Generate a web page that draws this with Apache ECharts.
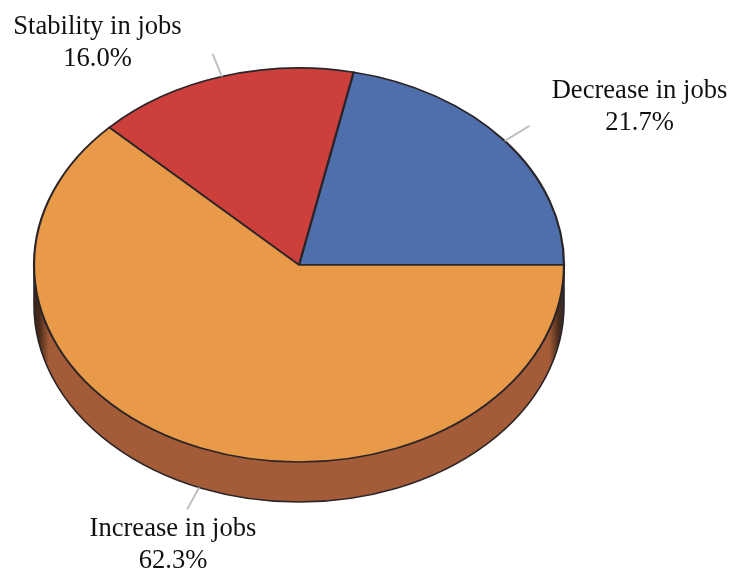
<!DOCTYPE html>
<html>
<head>
<meta charset="utf-8">
<style>html,body{margin:0;padding:0;background:#fff}#main{width:740px;height:569px}</style>
<script src="https://cdn.jsdelivr.net/npm/echarts@6/dist/echarts.min.js"></script>
</head>
<body>
<div id="main"></div>
<script>
// Employment change shares
const categories = ['Decrease in jobs', 'Stability in jobs', 'Increase in jobs'];
const shares = [21.7, 16.0, 62.3];
const sliceColors = ['#4E6FAC', '#CC3F3A', '#E99A48'];
const wallColor = '#A45C38';
const edgeColor = '#2B2428';

// Tilted disc geometry
const cx = 299, cy = 265, rx = 265, ry = 197, depth = 40;
const labelCentres = [[639.5, 107.5], [97.5, 43.5], [173, 545]];

const total = shares.reduce((a, b) => a + b, 0);
const starts = [];
shares.reduce((acc, v, i) => { starts[i] = acc; return acc + v; }, 0);

function sliceAngles(i, value) {
  // Screen angles, running counter-clockwise from the east point
  const a0 = starts[i] / total * Math.PI * 2;
  const a1 = a0 + value / total * Math.PI * 2;
  return [a0, a1];
}

function renderTop(params, api) {
  const i = params.dataIndex;
  const value = api.value(0);
  const [a0, a1] = sliceAngles(i, value);
  const mid = (a0 + a1) / 2;
  const mx = Math.cos(mid), my = -Math.sin(mid);
  const drop = my > 0 ? depth : 0;
  const px = cx + rx * mx, py = cy + ry * my + drop;
  const qx = cx + rx * mx * 1.12, qy = cy + ry * my * 1.12 + drop;
  return {
    type: 'group',
    children: [
      {
        type: 'sector',
        originX: cx, originY: cy, scaleY: ry / rx,
        shape: { cx: cx, cy: cy, r0: 0, r: rx, startAngle: -a1, endAngle: -a0, clockwise: true },
        style: { fill: sliceColors[i], stroke: edgeColor, lineWidth: 2.2 }
      },
      {
        type: 'line',
        shape: { x1: px, y1: py, x2: qx, y2: qy },
        style: { stroke: '#C0C0C0', lineWidth: 2 }
      },
      {
        type: 'text',
        x: labelCentres[i][0], y: labelCentres[i][1],
        style: {
          text: categories[i] + '\n' + value.toFixed(1) + '%',
          fontFamily: '"Liberation Serif"', fontSize: 26.6, lineHeight: 32,
          fill: '#111', align: 'center', verticalAlign: 'middle'
        }
      }
    ]
  };
}

function renderWall() {
  const l = cx - rx, r = cx + rx, b = cy + depth;
  return {
    type: 'path',
    shape: { pathData: `M${l} ${cy} L${l} ${b} A${rx} ${ry} 0 0 0 ${r} ${b} L${r} ${cy} Z` },
    style: {
      fill: {
        type: 'linear', x: 0, y: 0, x2: 1, y2: 0,
        colorStops: [
          { offset: 0, color: '#33241C' }, { offset: 0.012, color: '#4A2C1C' },
          { offset: 0.03, color: wallColor }, { offset: 0.97, color: wallColor },
          { offset: 0.988, color: '#4A2C1C' }, { offset: 1, color: '#2A2A30' }
        ]
      },
      stroke: edgeColor, lineWidth: 1.6
    }
  };
}

const chart = echarts.init(document.getElementById('main'), null, { renderer: 'canvas' });
chart.setOption({
  animation: false,
  backgroundColor: '#fff',
  series: [
    { type: 'custom', coordinateSystem: 'none', z: 1, data: [[shares[2]]], renderItem: renderWall, silent: true },
    { type: 'custom', coordinateSystem: 'none', z: 2, data: shares.map(v => [v]), renderItem: renderTop, silent: true }
  ]
});
</script>
</body>
</html>
